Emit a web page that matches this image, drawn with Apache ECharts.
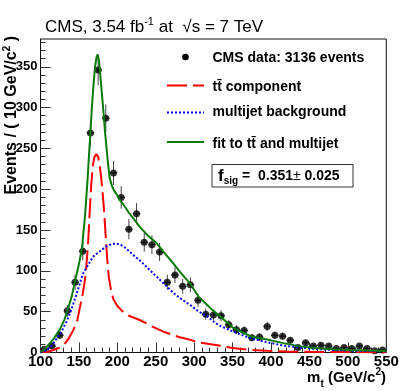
<!DOCTYPE html>
<html><head><meta charset="utf-8">
<script src="https://cdn.jsdelivr.net/npm/echarts@6/dist/echarts.min.js"></script>
<style>html,body{margin:0;padding:0;background:#fff}#c{width:407px;height:391px}</style>
</head><body><div id="c"></div>
<script>
// ---- data ----
const binCenters = [105,115,125,135,145,155,165,175,185,195,205,215,225,235,245,255,265,275,285,295,305,315,325,335,345,355,365,375,385,395,405,415,425,435,445,455,465,475,485,495,505,515,525,535,545];
const counts = [4,8,21,51,86,124,269,346,287,220,190,151,170,135,132,123,86,95,81,83,64,47,46,45,34,28,27,18,19,32,21,20,15,6,12,8,9,8,5,6,5,8,5,2,3];
const countErrors = [2,2.8,4.6,7.1,9.3,11.1,16.4,18.6,16.9,14.8,13.8,12.3,13,11.6,11.5,11.1,9.3,9.7,9,9.1,8,6.9,6.8,6.7,5.8,5.3,5.2,4.2,4.4,5.7,4.6,4.5,3.9,2.4,3.5,2.8,3,2.8,2.2,2.4,2.2,2.8,2.2,1.4,1.7];

const ttbarCurve = [[100,0.3],[110,1],[117,3],[125,6],[130,9],[136,16],[143,28],[148,40],[151,54],[155,72],[158,90],[160,110],[162,135],[164,172],[166,205],[168,228],[170,239],[172.5,243],[175,240],[177,230],[179,214],[181,194],[183,170],[185,140],[187,112],[189,92],[192,75],[195,65],[200,57],[206,51],[215,45],[230,39.5],[245,32],[260,25.5],[280,19],[295,15.5],[305,12.5],[330,9],[350,5.5],[370,3.5],[395,2],[420,1.3],[450,0.8],[500,0.5],[550,0.3]];
const multijetCurve = [[100,0],[105,1.5],[108,3],[115,9],[121,17],[128,27],[134,38],[140,52],[147,72],[153,90],[156,98],[160,104],[168,117],[173,121],[180,126],[186,130],[193,133],[199,133.5],[206,131],[212,127],[220,120],[230,112],[240,103],[251,93],[262,83],[273,73],[284,65],[295,58],[306,50],[316,45],[325,38],[334,32.5],[351,25.5],[373,17.5],[395,12.5],[416,8.5],[438,6],[460,4.3],[481,3],[503,2.3],[525,1.8],[550,1.4]];
const fitCurve = [[100,0.5],[104,3],[112,11],[118,18],[125,28],[131,40],[136,54],[141,70],[145,88],[150,108],[154,128],[158,168],[161,208],[163,240],[165,270],[167,302],[169,328],[171,350],[173,362],[174.5,365],[176,358],[178,338],[180,316],[182,294],[184,270],[186,250],[188,230],[190,214],[193,204],[196,198],[199,194],[203,187],[208,181],[216,170],[230,153],[240,143],[251,134],[262,121],[273,109],[284,96],[295,84],[306,68],[316,59],[325,51],[334,44],[351,30],[373,20],[395,16],[416,11.5],[438,7.5],[460,5.2],[481,4],[503,3],[525,2.3],[550,1.8]];

const yMajorTicks = [0,50,100,150,200,250,300,350];
const yMinorTicks = [10,20,30,40,60,70,80,90,110,120,130,140,160,170,180,190,210,220,230,240,260,270,280,290,310,320,330,340,360,370,380];
const binHalfWidth = 5;

const titleText = '{a|CMS, 3.54 fb}{s|-1}{a| at  \u221As = 7 TeV}';
const legendLabels = ['CMS data: 3136 events','tt\u0304 component','multijet background','fit to tt\u0304 and multijet'];

// ---- chart ----
const FONT = 'Liberation Sans, Arial, Helvetica, sans-serif';
const chart = echarts.init(document.getElementById('c'), null, {renderer:'canvas'});
const errData = binCenters.map((m,i)=>[m, counts[i], countErrors[i]]);
const ptData = binCenters.map((m,i)=>[m, counts[i]]);

const legendY = [57, 85.5, 112.5, 142];
const legendX0 = 167, legendX1 = 204, legendTextX = 212.5;

chart.setOption({
  animation:false,
  backgroundColor:'#fff',
  grid:{left:40.5, right:20.7, top:39, bottom:38.5, show:true, borderColor:'#111', borderWidth:1, backgroundColor:'transparent'},
  xAxis:{type:'value', min:100, max:550, interval:50,
    axisLine:{show:true, lineStyle:{color:'#111', width:1}},
    axisTick:{show:true, inside:true, length:10, lineStyle:{color:'#333'}},
    minorTick:{show:true, splitNumber:5, length:5, lineStyle:{color:'#333'}},
    splitLine:{show:false}, minorSplitLine:{show:false},
    axisLabel:{show:true, margin:2, color:'#000', fontSize:15, fontWeight:'bold', fontFamily:FONT, showMinLabel:true, showMaxLabel:true}
  },
  yAxis:[
    {type:'value', min:0, max:384, position:'left',
      axisLine:{show:true, lineStyle:{color:'#111'}},
      axisTick:{show:true, inside:true, length:10, customValues:yMajorTicks, lineStyle:{color:'#333'}},
      axisLabel:{show:true, margin:3, color:'#000', fontSize:13, fontWeight:'bold', fontFamily:FONT, customValues:yMajorTicks},
      splitLine:{show:false}
    },
    {type:'value', min:0, max:384, position:'left', offset:0,
      axisLine:{show:false},
      axisTick:{show:true, inside:true, length:5, customValues:yMinorTicks, lineStyle:{color:'#333'}},
      axisLabel:{show:false},
      splitLine:{show:false}
    }
  ],
  series:[
    {type:'custom', clip:true, data:errData, encode:{x:0,y:1}, z:3,
      renderItem:function(params, api){
        const x = api.value(0), y = api.value(1), e = api.value(2);
        const t = api.coord([x, y+e]), b = api.coord([x, Math.max(0,y-e)]);
        const l = api.coord([x-binHalfWidth, y]), r = api.coord([x+binHalfWidth, y]);
        return {type:'group', children:[
          {type:'line', shape:{x1:t[0],y1:t[1],x2:b[0],y2:b[1]}, style:{stroke:'#444', lineWidth:1}},
          {type:'line', shape:{x1:l[0],y1:l[1],x2:r[0],y2:r[1]}, style:{stroke:'#222', lineWidth:1}}
        ]};
      }
    },
    {type:'scatter', data:ptData, symbol:'circle', symbolSize:7, itemStyle:{color:'#000'}, z:4},
    {type:'line', data:ttbarCurve, showSymbol:false, smooth:false, lineStyle:{color:'#ff0000', width:2, type:[20,6]}, z:5},
    {type:'line', data:multijetCurve, showSymbol:false, smooth:false, lineStyle:{color:'#0000ff', width:2, type:[2,2]}, z:5},
    {type:'line', data:fitCurve, showSymbol:false, smooth:false, lineStyle:{color:'#0a7a0a', width:2}, z:6}
  ],
  graphic:[
    {type:'text', x:45, y:27, style:{text:titleText, textVerticalAlign:'middle', fill:'#000',
      rich:{a:{fontSize:17, fontFamily:FONT, lineHeight:22, verticalAlign:'middle'}, s:{fontSize:11, fontFamily:FONT, lineHeight:12, verticalAlign:'top'}}}},
    {type:'text', x:12, y:36, rotation:Math.PI/2, style:{text:'{a|Events / ( 10 GeV/c}{s|2}{a| )}', textAlign:'right', textVerticalAlign:'middle', fill:'#000',
      rich:{a:{fontSize:16, fontWeight:'bold', fontFamily:FONT, lineHeight:20, verticalAlign:'middle'}, s:{fontSize:10, fontWeight:'bold', fontFamily:FONT, lineHeight:10, verticalAlign:'top'}}}},
    {type:'text', x:386, y:378, style:{text:'{a|m}{b|t}{a| (GeV/c}{s|2}{a|)}', textAlign:'right', textVerticalAlign:'middle', fill:'#000',
      rich:{a:{fontSize:15, fontWeight:'bold', fontFamily:FONT, lineHeight:22, verticalAlign:'middle'}, b:{fontSize:10, fontWeight:'bold', fontFamily:FONT, lineHeight:10, verticalAlign:'bottom'}, s:{fontSize:10, fontWeight:'bold', fontFamily:FONT, lineHeight:10, verticalAlign:'top'}}}},
    // legend
    {type:'circle', shape:{cx:(legendX0+legendX1)/2, cy:legendY[0], r:3.3}, style:{fill:'#000'}},
    {type:'line', shape:{x1:legendX0, y1:legendY[1], x2:legendX1, y2:legendY[1]}, style:{stroke:'#ff0000', lineWidth:2, lineDash:[20,6]}},
    {type:'line', shape:{x1:legendX0, y1:legendY[2], x2:legendX1, y2:legendY[2]}, style:{stroke:'#0000ff', lineWidth:2, lineDash:[2,2]}},
    {type:'line', shape:{x1:legendX0, y1:legendY[3], x2:legendX1, y2:legendY[3]}, style:{stroke:'#0a7a0a', lineWidth:2}},
    {type:'text', x:legendTextX, y:legendY[0]+1, style:{text:legendLabels[0], font:'bold 14px '+FONT, fill:'#000', textVerticalAlign:'middle'}},
    {type:'text', x:legendTextX, y:legendY[1]+1.5, style:{text:legendLabels[1], font:'bold 14px '+FONT, fill:'#000', textVerticalAlign:'middle'}},
    {type:'text', x:legendTextX, y:legendY[2], style:{text:legendLabels[2], font:'bold 14px '+FONT, fill:'#000', textVerticalAlign:'middle'}},
    {type:'text', x:legendTextX, y:legendY[3]+2, style:{text:legendLabels[3], font:'bold 14px '+FONT, fill:'#000', textVerticalAlign:'middle'}},
    // f_sig box
    {type:'rect', shape:{x:212, y:164.5, width:141, height:22.5}, style:{fill:'#fff', stroke:'#333', lineWidth:1}},
    {type:'text', x:218, y:176, style:{text:'{f|f}{s|sig}{t| =  0.351}{p|\u00B1}{t| 0.025}', textVerticalAlign:'middle', fill:'#000',
      rich:{f:{fontSize:17, fontWeight:'bold', fontFamily:FONT, lineHeight:20, verticalAlign:'middle'},
            s:{fontSize:10, fontWeight:'bold', fontFamily:FONT, lineHeight:10, verticalAlign:'bottom'},
            t:{fontSize:14, fontWeight:'bold', fontFamily:FONT, lineHeight:20, verticalAlign:'middle'},
            p:{fontSize:14, fontFamily:FONT, lineHeight:20, verticalAlign:'middle'}}}}
  ]
});
</script></body></html>
